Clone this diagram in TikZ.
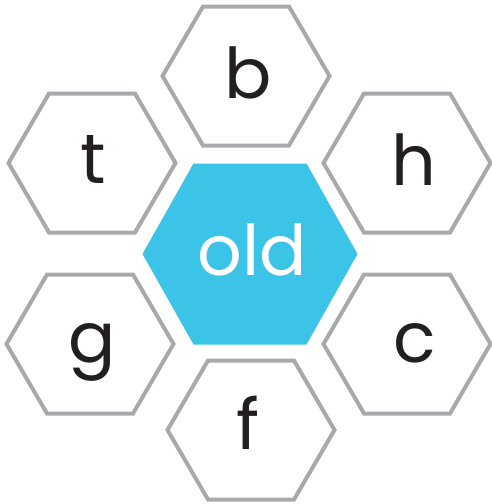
\documentclass[tikz,border=0pt]{standalone}
\usepackage{fontspec}
\setmainfont{Poppins}
\definecolor{hexgray}{HTML}{A7A9AC}
\definecolor{oldblue}{HTML}{3BC4E7}
\definecolor{ink}{HTML}{231F20}
\begin{document}
\begin{tikzpicture}[x=1pt, y=-1pt]
    % Styles
    \tikzstyle{hexline} = [draw=hexgray, line width=4pt, line join=miter]
    \tikzstyle{letter} = [anchor=base, inner sep=0pt, text=ink, font=\fontsize{70}{70}\selectfont]
    \useasboundingbox (0,0) rectangle (492,504);

    % Outer hexagons
    \foreach \cx/\cy in {246/76, 92/163, 407/163, 90/344, 407/344, 251/430}
        \draw[hexline] (\cx-83.5,\cy) -- (\cx-43,\cy-69.5) -- (\cx+43,\cy-69.5) -- (\cx+83.5,\cy)
            -- (\cx+43,\cy+69.5) -- (\cx-43,\cy+69.5) -- cycle;

    % Centre hexagon
    \fill[oldblue] (142.5,254) -- (193.5,163.5) -- (306.5,163.5) -- (357.5,254)
        -- (306.5,344.5) -- (193.5,344.5) -- cycle;

    % Letters
    \node[letter] (b) at (248,98) {b};
    \node[letter] (t) at (93,183) {t};
    \node[letter] (h) at (414,185) {h};
    \node[letter] (g) at (92,362) {g};
    \node[letter] (c) at (415,362) {c};
    \node[letter] (f) at (248,449) {f};
    \node[letter, text=white] (old) at (252,275) {old};
\end{tikzpicture}
\end{document}
